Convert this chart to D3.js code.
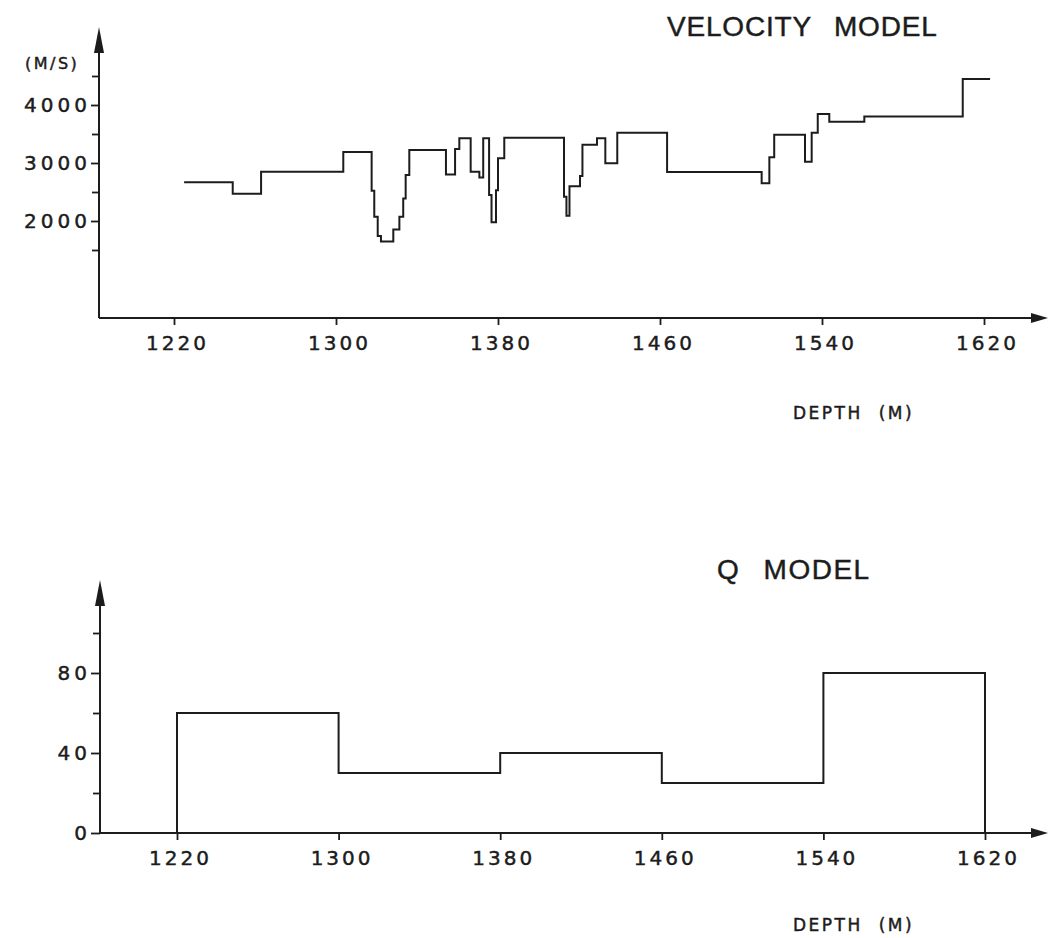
<!DOCTYPE html>
<html><head><meta charset="utf-8">
<script src="https://cdn.jsdelivr.net/npm/d3@7"></script>
<style>
html,body{margin:0;padding:0;background:#fff;}
svg{display:block;}
text{font-family:"DejaVu Sans",sans-serif;fill:#1c1c1c;stroke:#1c1c1c;stroke-width:0.45px;}
</style></head><body>
<svg id="chart" width="1048" height="938"></svg>
<script>
// ---- data ----
const depthTicks = [1220, 1300, 1380, 1460, 1540, 1620];
const velTicksMajor = [2000, 3000, 4000];
const velTicksMinor = [1500, 2500, 3500, 4500];
const qTicksMajor = [0, 40, 80];
const qTicksMinor = [20, 60, 100];

// velocity model: depth where each layer starts (m) and its velocity (m/s)
const velDepths = [1225, 1249, 1263, 1303.6, 1317.6, 1318.9, 1320.6, 1322.2,
  1328.3, 1331.3, 1333.2, 1334.4, 1336.2, 1354.3, 1358.8, 1360.9,
  1366.5, 1370.8, 1372.7, 1375.6, 1376.8, 1379.0, 1380.0, 1383.1,
  1412.6, 1413.8, 1415.3, 1420.5, 1421.7, 1428.9, 1433.0, 1438.9,
  1463.5, 1510.2, 1514.0, 1516.4, 1531.6, 1534.9, 1537.9, 1543.6,
  1560.9, 1609.5];
const velValues = [2670, 2470, 2850, 3190, 2520, 2075, 1740, 1645,
  1855, 2075, 2390, 2795, 3225, 2800, 3240, 3425,
  2850, 2750, 3425, 2450, 1980, 2530, 3080, 3435,
  2420, 2090, 2600, 2775, 3315, 3425, 2995, 3520,
  2845, 2650, 3100, 3485, 3020, 3520, 3845, 3710,
  3800, 4450];
const velEndDepth = 1623;

// Q model: layer boundaries and Q values
const qDepths = [1220, 1300, 1380, 1460, 1540, 1620];
const qValues = [60, 30, 40, 25, 80];

// ---- layout ----
const ink = "#1c1c1c";
const svg = d3.select("#chart");

const xTop = d3.scaleLinear().domain([1220, 1620]).range([174, 984]);
const yTop = d3.scaleLinear().domain([2000, 4000]).range([221, 105]);
const xBot = d3.scaleLinear().domain([1220, 1620]).range([177, 985]);
const yBot = d3.scaleLinear().domain([0, 80]).range([833, 673]);

function styleAxis(g, ls, dx) {
  g.select(".domain").remove();
  g.selectAll(".tick line").attr("stroke", ink).attr("stroke-width", 1.8);
  g.selectAll(".tick text")
    .attr("fill", ink)
    .attr("dx", dx || 0)
    .style("font-family", '"DejaVu Sans", sans-serif')
    .style("font-size", "20px")
    .style("letter-spacing", ls + "px");
}

function drawFrame(axisX, yBottom, yTopArrow, xRightArrow) {
  svg.append("line").attr("x1", axisX).attr("x2", axisX)
    .attr("y1", yBottom).attr("y2", yTopArrow + 20)
    .attr("stroke", ink).attr("stroke-width", 2);
  svg.append("polygon")
    .attr("points", `${axisX - 5},${yTopArrow + 26} ${axisX},${yTopArrow} ${axisX + 5},${yTopArrow + 26}`)
    .attr("fill", ink);
  svg.append("line").attr("x1", axisX).attr("x2", xRightArrow - 10)
    .attr("y1", yBottom).attr("y2", yBottom)
    .attr("stroke", ink).attr("stroke-width", 2);
  svg.append("polygon")
    .attr("points", `${xRightArrow - 17},${yBottom - 5} ${xRightArrow},${yBottom} ${xRightArrow - 17},${yBottom + 5}`)
    .attr("fill", ink);
}

// ================= TOP: VELOCITY MODEL =================
const topAxisX = 99, topBase = 318;
drawFrame(topAxisX, topBase, 27, 1048);

const gyT = svg.append("g").attr("transform", `translate(${topAxisX},0)`)
  .call(d3.axisLeft(yTop).tickValues(velTicksMajor).tickSize(8).tickPadding(0).tickFormat(d3.format("d")));
styleAxis(gyT, 4);
const gyTm = svg.append("g").attr("transform", `translate(${topAxisX},0)`)
  .call(d3.axisLeft(yTop).tickValues(velTicksMinor).tickSize(7).tickFormat(""));
styleAxis(gyTm, 0);

const gxT = svg.append("g").attr("transform", `translate(0,${topBase})`)
  .call(d3.axisBottom(xTop).tickValues(depthTicks).tickSize(7).tickPadding(11).tickFormat(d3.format("d")));
styleAxis(gxT, 3, 3);

const velPts = velDepths.map((d, i) => [d, velValues[i]]);
velPts.push([velEndDepth, velValues[velValues.length - 1]]);
svg.append("path")
  .datum(velPts)
  .attr("d", d3.line().x(p => xTop(p[0])).y(p => yTop(p[1])).curve(d3.curveStepAfter))
  .attr("fill", "none").attr("stroke", ink).attr("stroke-width", 2);

svg.append("text").attr("x", 667).attr("y", 36)
  .style("font-family", '"Liberation Sans", sans-serif').style("font-size", "28px")
  .style("letter-spacing", "0.8px").style("word-spacing", "14px")
  .text("VELOCITY MODEL");
svg.append("text").attr("x", 25).attr("y", 69)
  .style("font-size", "16px").style("letter-spacing", "2.5px")
  .text("(M/S)");
svg.append("text").attr("x", 793).attr("y", 419)
  .style("font-size", "17px").style("letter-spacing", "2.5px").style("word-spacing", "8px")
  .text("DEPTH (M)");

// ================= BOTTOM: Q MODEL =================
const botAxisX = 100, botBase = 833;
drawFrame(botAxisX, botBase, 580, 1048);

const gyB = svg.append("g").attr("transform", `translate(${botAxisX},0)`)
  .call(d3.axisLeft(yBot).tickValues(qTicksMajor).tickSize(9).tickPadding(0).tickFormat(d3.format("d")));
styleAxis(gyB, 4);
const gyBm = svg.append("g").attr("transform", `translate(${botAxisX},0)`)
  .call(d3.axisLeft(yBot).tickValues(qTicksMinor).tickSize(7).tickFormat(""));
styleAxis(gyBm, 0);

const gxB = svg.append("g").attr("transform", `translate(0,${botBase})`)
  .call(d3.axisBottom(xBot).tickValues(depthTicks).tickSize(7).tickPadding(11).tickFormat(d3.format("d")));
styleAxis(gxB, 3, 3);

const qPts = [[qDepths[0], 0]];
qValues.forEach((q, i) => { qPts.push([qDepths[i], q]); qPts.push([qDepths[i + 1], q]); });
qPts.push([qDepths[qDepths.length - 1], 0]);
svg.append("path")
  .datum(qPts)
  .attr("d", d3.line().x(p => xBot(p[0])).y(p => yBot(p[1])))
  .attr("fill", "none").attr("stroke", ink).attr("stroke-width", 2);

svg.append("text").attr("x", 717).attr("y", 579)
  .style("font-family", '"Liberation Sans", sans-serif').style("font-size", "28px")
  .style("letter-spacing", "1.5px").style("word-spacing", "14px")
  .text("Q MODEL");
svg.append("text").attr("x", 793).attr("y", 931)
  .style("font-size", "17px").style("letter-spacing", "2.5px").style("word-spacing", "8px")
  .text("DEPTH (M)");
</script>
</body></html>
